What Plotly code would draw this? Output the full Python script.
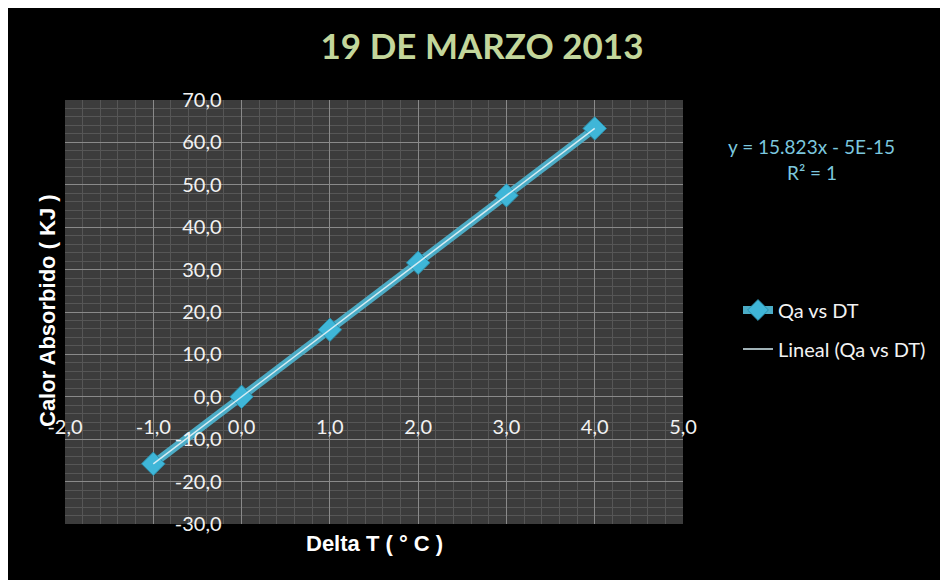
"""
Calor absorbido vs Delta T (19 de marzo 2013)
Scatter with straight line + linear trendline, Excel-style dark chart
"""

import plotly.graph_objects as go

# data
delta_t = [-1.0, 0.0, 1.0, 2.0, 3.0, 4.0]
calor = [-15.8, 0.0, 15.8, 31.6, 47.5, 63.3]

# trendline as printed on the chart
slope = 15.823
intercept = -5e-15
trend_x = [min(delta_t), max(delta_t)]
trend_y = [slope * v + intercept for v in trend_x]

# axis ticks (Excel style, comma decimal, plain hyphen)
x_ticks = [-2, -1, 0, 1, 2, 3, 4, 5]
y_ticks = [-30, -20, -10, 0, 10, 20, 30, 40, 50, 60, 70]
x_ticktext = [f'{v:.1f}'.replace('.', ',') for v in x_ticks]
y_ticktext = [f'{v:.1f}'.replace('.', ',') for v in y_ticks]

x_range = [-2.0, 5.0]
y_range = [-30.0, 70.0]

# the page puts the figure 8px in from the window corner
OFF = 8
W, H = 948 - OFF, 580 - OFF
# plot area, in reference-window pixels
L, R, T, B = 65, 683, 100, 524


def px_x(p):
    return (p - L) / (R - L)


def px_y(p):
    return (B - p) / (B - T)


fig = go.Figure()

fig.add_trace(go.Scatter(
    x=delta_t,
    y=calor,
    mode='lines+markers',
    name='Qa vs DT',
    line=dict(color='#4bacc6', width=8),
    marker=dict(symbol='diamond', size=18, color='#3fb6d8',
                line=dict(color='#2a8fab', width=1)),
    legend='legend',
))

fig.add_trace(go.Scatter(
    x=trend_x,
    y=trend_y,
    mode='lines',
    name='Lineal (Qa vs DT)',
    line=dict(color='#d6ecf3', width=1.5),
    legend='legend2',
))

tick_font = dict(family='Lato', size=20, color='#f2f2f2')
legend_font = dict(family='Lato', size=20, color='#f2f2f2')

fig.update_layout(
    width=W,
    height=H,
    paper_bgcolor='#000000',
    plot_bgcolor='#3c3c3c',
    margin=dict(l=L - OFF, r=948 - R, t=T - OFF, b=580 - B),
    title=dict(
        text='19 DE MARZO 2013',
        x=(482 - OFF) / W, xref='container', xanchor='center',
        y=1 - (47 - OFF) / H, yref='container', yanchor='middle',
        font=dict(family='Lato', size=35, color='#c3d69b', weight='bold'),
    ),
    xaxis=dict(
        range=x_range,
        tickvals=x_ticks,
        ticktext=x_ticktext,
        showgrid=True,
        gridcolor='#8a8a8a',
        gridwidth=1,
        minor=dict(dtick=0.2, showgrid=True, gridcolor='#565656', gridwidth=1),
        zeroline=False,
        showline=False,
        anchor='free',
        position=(0 - y_range[0]) / (y_range[1] - y_range[0]),
        ticks='',
        ticklabelstandoff=16,
        tickfont=tick_font,
        fixedrange=True,
    ),
    yaxis=dict(
        range=y_range,
        tickvals=y_ticks,
        ticktext=y_ticktext,
        showgrid=True,
        gridcolor='#8a8a8a',
        gridwidth=1,
        minor=dict(dtick=2, showgrid=True, gridcolor='#565656', gridwidth=1),
        zeroline=False,
        showline=False,
        anchor='free',
        position=(0 - x_range[0]) / (x_range[1] - x_range[0]),
        ticks='',
        ticklabelstandoff=20,
        tickfont=tick_font,
        fixedrange=True,
    ),
    legend=dict(
        x=px_x(738), xanchor='left',
        y=px_y(310), yanchor='middle',
        bgcolor='rgba(0,0,0,0)',
        font=legend_font,
    ),
    legend2=dict(
        x=px_x(738), xanchor='left',
        y=px_y(349), yanchor='middle',
        bgcolor='rgba(0,0,0,0)',
        font=legend_font,
    ),
    showlegend=True,
)

# axis titles
fig.add_annotation(
    text='Calor Absorbido ( KJ )',
    x=px_x(47), y=px_y(311), xref='paper', yref='paper',
    xanchor='center', yanchor='middle',
    textangle=-90, showarrow=False,
    font=dict(family='Liberation Sans', size=22, color='#ffffff', weight='bold'),
)
fig.add_annotation(
    text='Delta T ( ° C )',
    x=px_x(374), y=px_y(543), xref='paper', yref='paper',
    xanchor='center', yanchor='middle',
    showarrow=False,
    font=dict(family='Liberation Sans', size=22, color='#ffffff', weight='bold'),
)

# trendline equation
fig.add_annotation(
    text='y = 15.823x - 5E-15',
    x=px_x(812), y=px_y(147), xref='paper', yref='paper',
    xanchor='center', yanchor='middle',
    showarrow=False,
    font=dict(family='Lato', size=19, color='#7cc7de'),
)
fig.add_annotation(
    text='R² = 1',
    x=px_x(812), y=px_y(172), xref='paper', yref='paper',
    xanchor='center', yanchor='middle',
    showarrow=False,
    font=dict(family='Lato', size=19, color='#7cc7de'),
)

fig.write_html("out.html")
